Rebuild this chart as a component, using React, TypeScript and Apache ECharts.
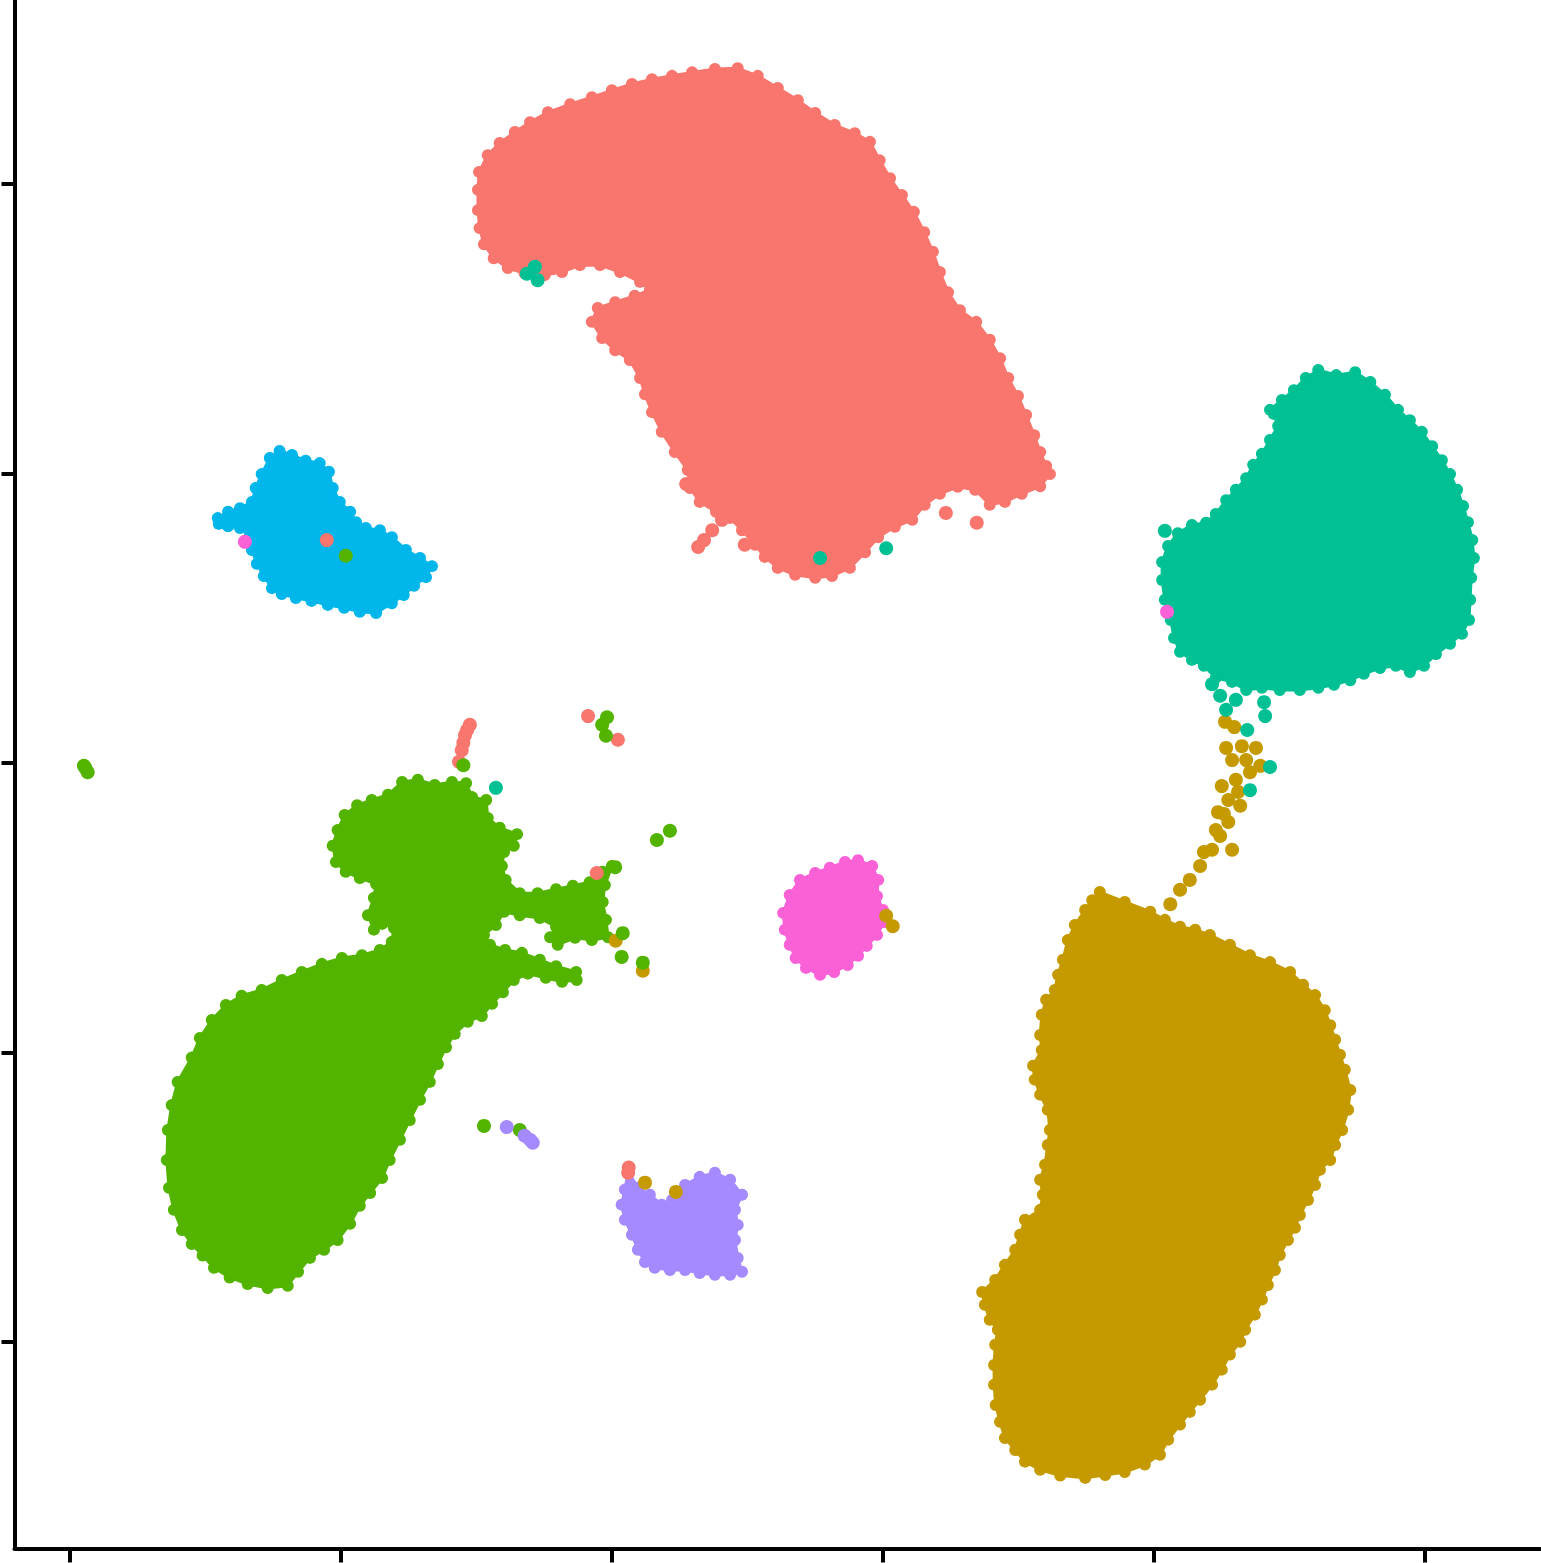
import React, { useEffect, useRef } from "react";
import * as echarts from "echarts";

type P = [number, number];

// Cluster colours (ggplot hue palette, 7 clusters)
const COLORS = {
  c0: "#F8766D",
  c1: "#C49A00",
  c2: "#53B400",
  c3: "#00C094",
  c4: "#00B6EB",
  c5: "#A58AFF",
  c6: "#FB61D7",
};

const xTicks = [-10, -5, 0, 5, 10, 15];
const yTicks = [-10, -5, 0, 5, 10];

// Outlines of the dense point clouds (UMAP_1, UMAP_2)
const c0Outline: P[] = [
  [-2.45, 10.21], [-2.29, 10.5], [-2.07, 10.71], [-1.79, 10.9], [-1.51, 11.07], [-1.18, 11.24], [-0.77, 11.38],
  [-0.37, 11.5], [0, 11.62], [0.37, 11.73], [0.74, 11.81], [1.11, 11.87], [1.48, 11.93], [1.9, 11.99], [2.32, 12.0],
  [2.69, 11.87], [3.06, 11.66], [3.43, 11.45], [3.75, 11.23], [4.11, 11.02], [4.48, 10.88], [4.76, 10.73],
  [4.94, 10.41], [5.13, 10.1], [5.35, 9.81], [5.57, 9.52], [5.76, 9.17], [5.92, 8.83], [6.05, 8.48], [6.2, 8.13],
  [6.42, 7.82], [6.72, 7.62], [6.97, 7.31], [7.16, 6.99], [7.31, 6.65], [7.49, 6.34], [7.64, 6.01], [7.79, 5.66],
  [7.9, 5.37], [8.01, 5.13], [8.08, 4.99], [7.9, 4.78], [7.56, 4.65], [7.25, 4.51], [6.97, 4.46], [6.7, 4.72],
  [6.38, 4.77], [6.05, 4.65], [5.77, 4.46], [5.54, 4.2], [5.22, 4.08], [4.91, 3.9], [4.67, 3.64], [4.39, 3.37],
  [4.06, 3.23], [3.75, 3.2], [3.38, 3.25], [3.06, 3.37], [2.82, 3.56], [2.64, 3.77], [2.4, 4.02], [2.18, 4.23],
  [1.92, 4.34], [1.62, 4.51], [1.44, 4.75], [1.4, 5.06], [1.16, 5.37], [0.92, 5.72], [0.74, 6.06], [0.61, 6.37],
  [0.52, 6.65], [0.33, 6.96], [0.06, 7.13], [-0.18, 7.34], [-0.37, 7.62], [-0.26, 7.86], [0.06, 7.96], [0.42, 8.07],
  [0.7, 8.17], [0.52, 8.31], [0.15, 8.48], [-0.22, 8.6], [-0.59, 8.6], [-0.92, 8.48], [-1.24, 8.43], [-1.61, 8.46],
  [-1.92, 8.55], [-2.18, 8.72], [-2.36, 8.96], [-2.44, 9.24], [-2.47, 9.55], [-2.47, 9.9],
];

const c1Outline: P[] = [
  [9.0, -2.23], [9.46, -2.4], [9.93, -2.57], [10.2, -2.71], [10.48, -2.83], [10.76, -2.88], [11.03, -2.97],
  [11.4, -3.14], [11.77, -3.32], [12.14, -3.44], [12.51, -3.61], [12.75, -3.83], [12.97, -4.01], [13.15, -4.27],
  [13.25, -4.53], [13.34, -4.78], [13.43, -5.04], [13.52, -5.3], [13.62, -5.65], [13.58, -5.99], [13.47, -6.34],
  [13.34, -6.6], [13.25, -6.86], [13.06, -7.03], [12.97, -7.29], [12.84, -7.55], [12.69, -7.81], [12.6, -8.03],
  [12.47, -8.24], [12.32, -8.5], [12.23, -8.76], [12.1, -9.02], [11.99, -9.27], [11.86, -9.53], [11.68, -9.79],
  [11.59, -10.0], [11.4, -10.22], [11.25, -10.48], [11.07, -10.74], [10.85, -11.0], [10.66, -11.21], [10.48, -11.43],
  [10.26, -11.69], [10.11, -11.95], [9.83, -12.12], [9.46, -12.25], [9.1, -12.3], [8.73, -12.35], [8.27, -12.31],
  [7.9, -12.21], [7.62, -12.07], [7.44, -11.87], [7.25, -11.66], [7.16, -11.38], [7.08, -11.09], [7.05, -10.74],
  [7.05, -10.4], [7.07, -10.05], [7.12, -9.79], [6.97, -9.62], [6.88, -9.36], [6.83, -9.14], [7.07, -8.93],
  [7.25, -8.67], [7.44, -8.41], [7.53, -8.15], [7.62, -7.89], [7.9, -7.72], [7.95, -7.46], [7.9, -7.2],
  [7.99, -6.94], [8.04, -6.6], [8.08, -6.34], [8.04, -5.99], [7.9, -5.73], [7.8, -5.47], [7.77, -5.23],
  [7.93, -4.96], [7.9, -4.7], [7.93, -4.35], [8.01, -4.09], [8.17, -3.92], [8.23, -3.66], [8.32, -3.4],
  [8.41, -3.06], [8.54, -2.8], [8.73, -2.54], [8.86, -2.37],
];

const c2Outline: P[] = [
  [-5.06, -1.16], [-4.93, -0.9], [-4.7, -0.73], [-4.43, -0.64], [-4.13, -0.55], [-3.87, -0.33], [-3.58, -0.29],
  [-3.27, -0.38], [-2.95, -0.33], [-2.69, -0.35], [-2.58, -0.59], [-2.32, -0.64], [-2.29, -0.95], [-2.07, -1.12],
  [-1.75, -1.23], [-1.81, -1.43], [-1.99, -1.54], [-2.03, -1.78], [-1.96, -2.02], [-1.7, -2.25], [-1.37, -2.25],
  [-1.03, -2.18], [-0.72, -2.12], [-0.41, -2.06], [-0.17, -1.88], [0.0, -1.78], [-0.13, -2.11], [-0.17, -2.4],
  [-0.11, -2.71], [-0.07, -3.01], [-0.37, -3.06], [-0.68, -3.02], [-1.0, -3.14], [-1.14, -3.01], [-1.03, -2.83],
  [-1.33, -2.68], [-1.7, -2.63], [-1.99, -2.57], [-2.14, -2.8], [-2.36, -2.97], [-2.25, -3.14], [-1.97, -3.23],
  [-1.66, -3.28], [-1.33, -3.4], [-1.03, -3.51], [-0.66, -3.61], [-0.65, -3.75], [-0.92, -3.78], [-1.22, -3.71],
  [-1.55, -3.64], [-1.81, -3.75], [-2.01, -3.96], [-2.21, -4.16], [-2.4, -4.37], [-2.66, -4.47], [-2.9, -4.68],
  [-3.06, -4.91], [-3.21, -5.2], [-3.36, -5.51], [-3.54, -5.82], [-3.73, -6.17], [-3.91, -6.51], [-4.1, -6.86],
  [-4.24, -7.17], [-4.46, -7.43], [-4.65, -7.65], [-4.83, -7.96], [-5.06, -8.24], [-5.31, -8.41], [-5.57, -8.55],
  [-5.79, -8.79], [-5.98, -9.03], [-6.35, -9.07], [-6.72, -9.0], [-7.05, -8.89], [-7.34, -8.72], [-7.55, -8.51],
  [-7.75, -8.31], [-7.93, -8.07], [-8.08, -7.72], [-8.17, -7.34], [-8.21, -6.86], [-8.19, -6.34], [-8.12, -5.91],
  [-8.01, -5.51], [-7.75, -5.09], [-7.6, -4.75], [-7.38, -4.44], [-7.12, -4.18], [-6.83, -4.02], [-6.46, -3.92],
  [-6.09, -3.75], [-5.72, -3.61], [-5.35, -3.47], [-4.98, -3.37], [-4.61, -3.32], [-4.28, -3.23], [-4.06, -3.09],
  [-4.02, -2.85], [-4.24, -2.78], [-4.39, -2.88], [-4.5, -2.63], [-4.39, -2.33], [-4.35, -2.09], [-4.65, -1.99],
  [-4.91, -1.88], [-5.09, -1.71], [-5.15, -1.43],
];

const c3Outline: P[] = [
  [12.14, 6.1], [12.36, 6.27], [12.58, 6.44], [12.8, 6.65], [13.03, 6.79], [13.36, 6.7], [13.71, 6.75],
  [13.99, 6.58], [14.26, 6.36], [14.5, 6.1], [14.72, 5.92], [14.94, 5.72], [15.13, 5.47], [15.31, 5.23],
  [15.46, 4.99], [15.59, 4.72], [15.7, 4.44], [15.79, 4.16], [15.87, 3.85], [15.9, 3.54], [15.85, 3.2],
  [15.83, 2.82], [15.81, 2.47], [15.68, 2.23], [15.46, 2.06], [15.2, 1.88], [14.98, 1.68], [14.72, 1.57],
  [14.46, 1.68], [14.17, 1.64], [13.87, 1.54], [13.62, 1.43], [13.32, 1.35], [13.03, 1.3], [12.69, 1.26],
  [12.32, 1.26], [11.99, 1.3], [11.7, 1.26], [11.44, 1.4], [11.14, 1.47], [10.92, 1.68], [10.7, 1.78],
  [10.48, 1.92], [10.37, 2.16], [10.31, 2.47], [10.2, 2.82], [10.15, 3.16], [10.15, 3.47], [10.26, 3.75],
  [10.44, 3.97], [10.7, 4.11], [10.96, 4.15], [11.14, 4.3], [11.33, 4.54], [11.51, 4.72], [11.7, 4.92],
  [11.83, 5.15], [11.99, 5.34], [12.14, 5.58], [12.29, 5.82], [12.21, 6.03],
];

const c4Outline: P[] = [
  [-7.27, 4.23], [-7.08, 4.34], [-6.86, 4.4], [-6.64, 4.51], [-6.57, 4.75], [-6.46, 4.99], [-6.31, 5.27],
  [-6.13, 5.39], [-5.9, 5.32], [-5.65, 5.22], [-5.39, 5.18], [-5.22, 5.03], [-5.15, 4.75], [-5.02, 4.51],
  [-4.83, 4.34], [-4.72, 4.16], [-4.54, 4.06], [-4.28, 4.02], [-4.06, 3.9], [-3.8, 3.68], [-3.54, 3.54],
  [-3.32, 3.4], [-3.43, 3.21], [-3.65, 3.06], [-3.84, 2.9], [-4.06, 2.76], [-4.35, 2.59], [-4.65, 2.61],
  [-4.94, 2.68], [-5.24, 2.73], [-5.54, 2.8], [-5.83, 2.85], [-6.09, 2.92], [-6.27, 3.02], [-6.42, 3.23],
  [-6.55, 3.44], [-6.64, 3.68], [-6.68, 3.92], [-6.86, 4.06], [-7.08, 4.09], [-7.25, 4.13],
];

const c5Outline: P[] = [
  [0.3, -7.06], [0.48, -7.34], [0.7, -7.46], [0.92, -7.63], [1.11, -7.55], [1.35, -7.29], [1.62, -7.15],
  [1.9, -7.08], [2.18, -7.2], [2.4, -7.46], [2.27, -7.72], [2.32, -7.98], [2.27, -8.24], [2.32, -8.55],
  [2.4, -8.79], [2.18, -8.84], [1.9, -8.84], [1.62, -8.81], [1.35, -8.76], [1.07, -8.76], [0.79, -8.72],
  [0.61, -8.62], [0.48, -8.41], [0.37, -8.15], [0.24, -7.89], [0.18, -7.63], [0.24, -7.37],
];

const c6Outline: P[] = [
  [3.28, -2.28], [3.47, -2.02], [3.75, -1.9], [4.02, -1.81], [4.3, -1.71], [4.54, -1.68], [4.8, -1.78],
  [4.91, -2.02], [4.89, -2.3], [5.0, -2.54], [5.02, -2.75], [4.89, -2.97], [4.7, -3.16], [4.54, -3.33],
  [4.35, -3.49], [4.1, -3.61], [3.84, -3.66], [3.58, -3.54], [3.39, -3.37], [3.28, -3.14], [3.19, -2.88],
  [3.16, -2.59],
];

// Scattered single cells
const c0Points: P[] = [
  [2.03, 4.2], [1.85, 4.02], [1.7, 3.85], [1.59, 3.73], [1.37, 4.82], [6.16, 4.32], [6.73, 4.15], [2.45, 3.77],
  [-2.62, 0.66], [-2.67, 0.57], [-2.71, 0.48], [-2.74, 0.35], [-2.77, 0.22], [-2.82, 0.02], [-0.44, 0.81],
  [0.11, 0.4], [-0.28, -1.9], [0.31, -6.99], [0.3, -7.08], [-5.26, 3.85],
];
const c1Points: P[] = [
  [11.31, 0.71], [11.48, 0.62], [11.33, 0.26], [11.62, 0.29], [11.44, 0.05], [11.7, 0.05], [11.88, 0.26],
  [11.96, -0.05], [11.25, -0.4], [11.51, -0.29], [11.77, -0.16], [11.37, -0.64], [11.59, -0.74], [11.18, -0.85],
  [11.37, -1.02], [11.22, -1.26], [11.07, -1.5], [10.92, -1.54], [11.44, -1.5], [10.85, -1.78], [10.66, -2.02],
  [10.48, -2.19], [10.3, -2.44], [11.14, -1.16], [11.29, -0.88], [11.55, -0.5],
  [5.06, -2.64], [5.18, -2.82], [0.61, -7.25], [1.18, -7.41], [0.07, -3.07], [0.57, -3.59],
];
const c2Points: P[] = [
  [-9.74, -0.05], [-9.67, -0.16], [-9.71, -0.09], [-4.91, 3.58], [-0.09, 0.79], [-0.18, 0.66], [-0.11, 0.47],
  [0.83, -1.33], [1.07, -1.17], [0.06, -1.8], [0.2, -2.94], [0.18, -3.35], [0.57, -3.45], [-2.36, -6.27],
  [-1.7, -6.34], [-2.74, -0.04],
];
const c3Points: P[] = [
  [11.07, 1.36], [11.22, 1.16], [11.33, 0.92], [11.51, 1.09], [11.72, 0.57], [12.03, 1.05], [12.05, 0.81],
  [10.2, 4.01], [12.14, -0.07], [11.77, -0.47], [-2.14, -0.43], [-1.57, 8.45], [-1.42, 8.57], [-1.37, 8.34],
  [5.06, 3.71], [3.84, 3.54],
];
const c5Points: P[] = [[-1.94, -6.29], [-1.61, -6.44], [-1.51, -6.51], [-1.46, -6.56]];
const c6Points: P[] = [[-6.77, 3.82], [10.24, 2.61]];

const clusters: { name: string; color: string; outline: P[]; points: P[] }[] = [
  { name: "0", color: COLORS.c0, outline: c0Outline, points: c0Points },
  { name: "1", color: COLORS.c1, outline: c1Outline, points: c1Points },
  { name: "2", color: COLORS.c2, outline: c2Outline, points: c2Points },
  { name: "3", color: COLORS.c3, outline: c3Outline, points: c3Points },
  { name: "4", color: COLORS.c4, outline: c4Outline, points: [] },
  { name: "5", color: COLORS.c5, outline: c5Outline, points: c5Points },
  { name: "6", color: COLORS.c6, outline: c6Outline, points: c6Points },
];

export default function App() {
  const ref = useRef<HTMLDivElement>(null);
  useEffect(() => {
    if (!ref.current) return;
    const chart = echarts.init(ref.current, undefined, { renderer: "svg" });
    const series: any[] = [];
    clusters.forEach((c) => {
      series.push({
        type: "custom",
        name: c.name,
        data: c.outline,
        encode: { x: 0, y: 1 },
        silent: true,
        renderItem: (params: any, api: any) => {
          if (params.dataIndex !== 0) return null;
          const pts = c.outline.map((p) => api.coord(p));
          return {
            type: "polygon",
            shape: { points: pts },
            style: { fill: c.color, stroke: c.color, lineWidth: 3, lineJoin: "round" },
          };
        },
        z: 2,
      });
      series.push({
        type: "scatter",
        name: c.name + "-edge",
        data: c.outline,
        symbolSize: 12,
        itemStyle: { color: c.color, opacity: 1 },
        silent: true,
        z: 2,
      });
    });
    clusters.forEach((c) => {
      if (!c.points.length) return;
      series.push({
        type: "scatter",
        name: c.name + "-cells",
        data: c.points,
        symbolSize: 14,
        itemStyle: { color: c.color, opacity: 1 },
        silent: true,
        z: 3,
      });
    });
    chart.setOption({
      animation: false,
      backgroundColor: "#ffffff",
      grid: { left: 14.5, right: 1, top: 0, bottom: 14.5, containLabel: false },
      xAxis: {
        type: "value",
        min: -11.02,
        max: 17.12,
        axisLine: { show: true, onZero: false, lineStyle: { color: "#000", width: 4 } },
        axisTick: { show: true, length: 14, customValues: xTicks, lineStyle: { color: "#000", width: 4 } },
        axisLabel: { show: false },
        splitLine: { show: false },
      },
      yAxis: {
        type: "value",
        min: -13.57,
        max: 13.18,
        axisLine: { show: true, onZero: false, lineStyle: { color: "#000", width: 4 } },
        axisTick: { show: true, length: 13, customValues: yTicks, lineStyle: { color: "#000", width: 4 } },
        axisLabel: { show: false },
        splitLine: { show: false },
      },
      series,
    });
    return () => chart.dispose();
  }, []);
  return (
    <div
      ref={ref}
      style={{ position: "absolute", left: 0, top: 0, width: 1541, height: 1563, background: "#fff" }}
    />
  );
}
